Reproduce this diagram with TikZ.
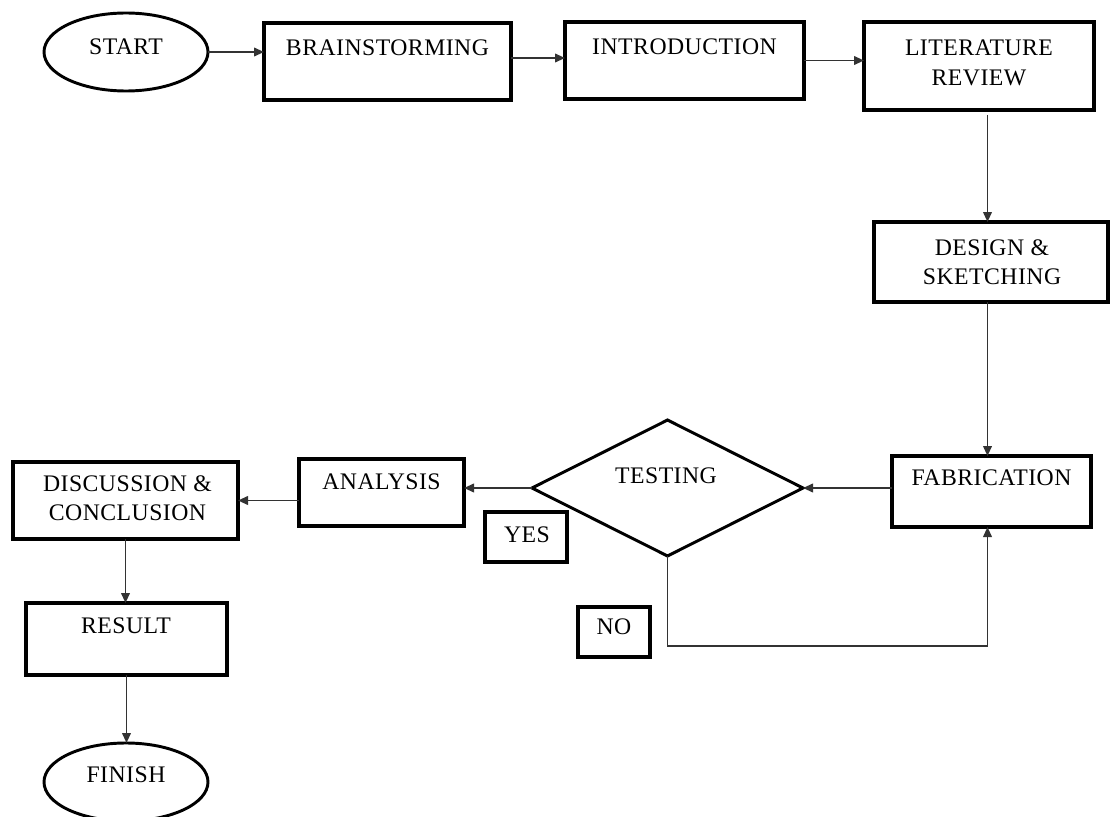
\documentclass[tikz,border=0pt]{standalone}
\usepackage{fontspec}
\setmainfont{Liberation Serif}[LetterSpace=2]
\usetikzlibrary{shapes.geometric,arrows.meta,fit}
\begin{document}
\begin{tikzpicture}[x=0.75pt,y=-0.75pt,
  box/.style={draw, rectangle, line width=2.4pt, inner sep=0pt, outer sep=0pt},
  term/.style={draw, ellipse, line width=2.2pt, inner sep=0pt, outer sep=0pt},
  decision/.style={draw, diamond, line width=2.2pt, inner sep=0pt, outer sep=0pt},
  lbl/.style={inner sep=0pt, align=center, font=\fontsize{17.8}{22}\selectfont},
  conn/.style={line width=1.3pt, draw=black!80, -{Triangle[length=7.5pt,width=6.5pt]}}]
\useasboundingbox (0,0) rectangle (1111,817);

% shapes
\node[term, minimum width=123pt, minimum height=58.5pt] (start) at (126,52) {};
\node[box, fit={(264,23) (511,100)}] (brain) {};
\node[box, fit={(565,22) (804,99)}] (intro) {};
\node[box, fit={(864,22) (1094,110)}] (lit) {};
\node[box, fit={(874,222) (1108,302)}] (design) {};
\node[box, fit={(892,456) (1091,527)}] (fab) {};
\node[decision, minimum width=203.25pt, minimum height=102pt] (test) at (667.5,488) {};
\node[box, fit={(299,459) (464,526)}] (ana) {};
\node[box, fit={(485,512) (567,562)}] (yes) {};
\node[box, fit={(578,607) (650,657)}] (no) {};
\node[box, fit={(13,462) (238,539)}] (disc) {};
\node[box, fit={(26,603) (227,675)}] (result) {};
\node[term, minimum width=123pt, minimum height=58.5pt] (finish) at (126,782) {};

% texts
\node[lbl] (start-t) at (126,47) {START};
\node[lbl] (brain-t) at (387.5,48) {BRAINSTORMING};
\node[lbl] (intro-t) at (684.5,47) {INTRODUCTION};
\node[lbl] (lit-t) at (979,63) {LITERATURE\\REVIEW};
\node[lbl] (design-t) at (992,262) {DESIGN \&\\SKETCHING};
\node[lbl] (fab-t) at (991.5,478) {FABRICATION};
\node[lbl] (test-t) at (666,476) {TESTING};
\node[lbl] (ana-t) at (381.5,482) {ANALYSIS};
\node[lbl] (yes-t) at (527,535) {YES};
\node[lbl] (no-t) at (614,627) {NO};
\node[lbl] (disc-t) at (127.5,498.5) {DISCUSSION \&\\CONCLUSION};
\node[lbl] (result-t) at (126,626) {RESULT};
\node[lbl] (finish-t) at (126,775) {FINISH};

% helper coordinates
\coordinate (b2i) at (511,58);
\coordinate (xc) at (987.5,0);
\coordinate (loop) at (987.5,646);

% connectors
\draw[conn] (start.east) -- (start.east -| brain.west);
\draw[conn] (b2i) -- (b2i -| intro.west);
\draw[conn] (intro.east) -- (intro.east -| lit.west);
\draw[conn, shorten <=3.75pt] (lit.south -| xc) -- (design.north -| xc);
\draw[conn] (design.south -| xc) -- (fab.north -| xc);
\draw[conn] (fab.west |- test.east) -- (test.east);
\draw[conn] (test.west) -- (test.west -| ana.east);
\draw[conn] (ana.west |- disc.east) -- (disc.east);
\draw[conn] (disc.south) -- (disc.south |- result.north);
\draw[conn] (result.south) -- (result.south |- finish.north);
\draw[conn] (test.south) |- (loop) -- (fab.south -| loop);
\end{tikzpicture}
\end{document}
